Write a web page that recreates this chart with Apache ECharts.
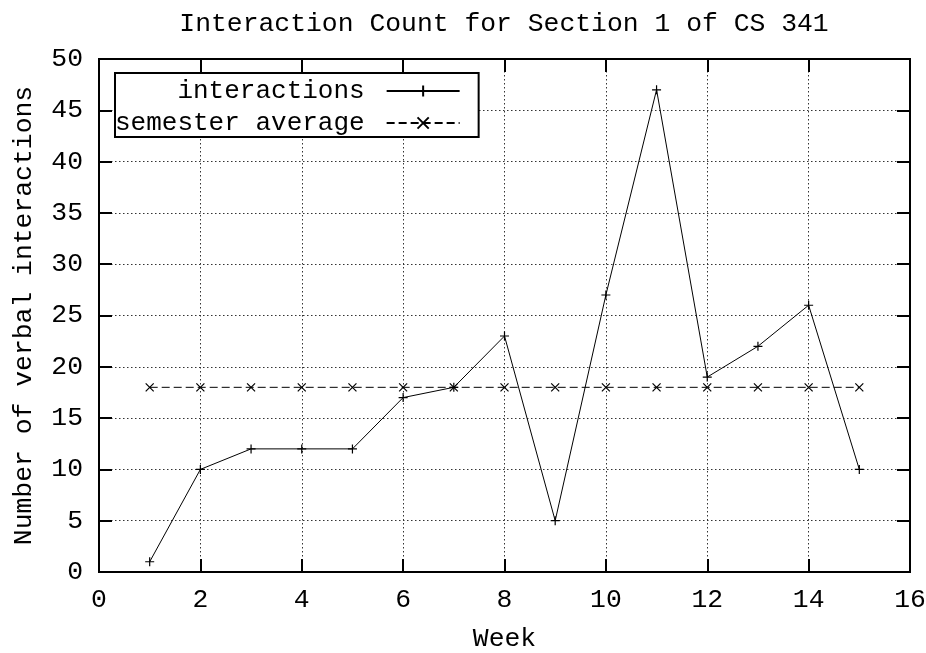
<!DOCTYPE html>
<html>
<head>
<meta charset="utf-8">
<script src="https://cdn.jsdelivr.net/npm/echarts@6/dist/echarts.min.js"></script>
<style>html,body{margin:0;padding:0;background:#fff}#c{width:926px;height:653px}</style>
</head>
<body>
<div id="c"></div>
<script>
const weeks = [1,2,3,4,5,6,7,8,9,10,11,12,13,14,15];
const interactions = [1,10,12,12,12,17,18,23,5,27,47,19,22,26,10];
const semesterAverage = [18,18,18,18,18,18,18,18,18,18,18,18,18,18,18];
const xTicks = [0,2,4,6,8,10,12,14,16];
const yTicks = [0,5,10,15,20,25,30,35,40,45,50];

const FONT = 'Liberation Mono';
const FS = 26.4;
const PLUS = 'path://M0,5L10,5M5,0L5,10';
const CROSS = 'path://M0,0L10,10M0,10L10,0';

const chart = echarts.init(document.getElementById('c'), null, {renderer:'canvas'});
const gridLine = {show:true, lineStyle:{color:'#333', type:[1.5,2.5], width:1}};
const tickIn = {show:true, inside:true, length:13, lineStyle:{color:'#000', width:2}};
const axisLine = {show:true, onZero:false, lineStyle:{color:'#000', width:2}};
chart.setOption({
  animation:false,
  backgroundColor:'#fff',
  textStyle:{fontFamily:FONT, color:'#000'},
  title:{
    text:'Interaction Count for Section 1 of CS 341',
    left:504, top:11, padding:0, textAlign:'center',
    textStyle:{fontFamily:FONT, fontSize:FS, fontWeight:'normal', color:'#000'}
  },
  legend:{
    left:115, top:73, orient:'vertical', align:'right',
    backgroundColor:'#fff', borderColor:'#000', borderWidth:2,
    padding:[5,18,1,0], itemGap:6, itemWidth:73, itemHeight:14,
    textStyle:{fontFamily:FONT, fontSize:26, color:'#000', width:272, align:'right', padding:[0,17,0,0]},
    data:['interactions','semester average']
  },
  grid:{left:99, right:16, top:59, bottom:81, show:true, borderColor:'#000', borderWidth:2, outerBoundsMode:'none', containLabel:false},
  xAxis:[{
    type:'value', min:0, max:16, interval:2, position:'bottom',
    name:'Week', nameLocation:'middle', nameGap:54,
    nameTextStyle:{fontFamily:FONT, fontSize:FS, color:'#000'},
    axisLabel:{fontFamily:FONT, fontSize:FS, color:'#000', margin:15},
    axisLine:axisLine, axisTick:tickIn, splitLine:gridLine
  },{
    type:'value', min:0, max:16, interval:2, position:'top',
    axisLabel:{show:false}, axisLine:axisLine, axisTick:tickIn, splitLine:{show:false}
  }],
  yAxis:[{
    type:'value', min:0, max:50, interval:5, position:'left',
    name:'Number of verbal interactions', nameLocation:'middle', nameGap:62,
    nameTextStyle:{fontFamily:FONT, fontSize:FS, color:'#000'},
    axisLabel:{fontFamily:FONT, fontSize:FS, color:'#000', margin:16},
    axisLine:axisLine, axisTick:tickIn, splitLine:gridLine
  },{
    type:'value', min:0, max:50, interval:5, position:'right',
    axisLabel:{show:false}, axisLine:axisLine, axisTick:tickIn, splitLine:{show:false}
  }],
  series:[{
    name:'interactions', type:'line',
    data:weeks.map((w,i)=>[w, interactions[i]]),
    symbol:PLUS, symbolSize:9, showAllSymbol:true,
    lineStyle:{color:'#000', width:1},
    itemStyle:{color:'#000', borderColor:'#000', borderWidth:1.2}
  },{
    name:'semester average', type:'line',
    data:weeks.map((w,i)=>[w, semesterAverage[i]]),
    symbol:CROSS, symbolSize:8, showAllSymbol:true,
    lineStyle:{color:'#000', width:1, type:[8,4]},
    itemStyle:{color:'#000', borderColor:'#000', borderWidth:1.2}
  }]
});
</script>
</body>
</html>
